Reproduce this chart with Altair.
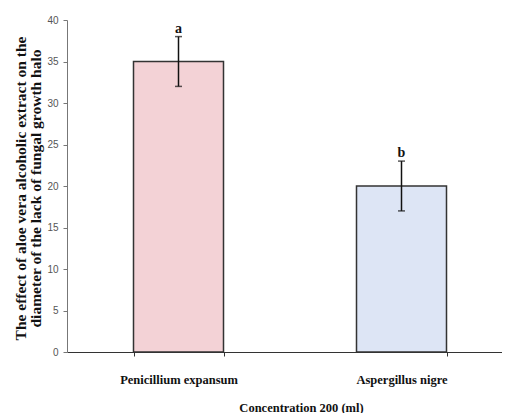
import altair as alt
import pandas as pd

categories = ["Penicillium expansum", "Aspergillus nigre"]
values = [35, 20]
errors = [3, 3]
letters = ["a", "b"]
fills = ["#f3d2d6", "#dde5f5"]

df = pd.DataFrame({
    "cat": categories,
    "val": values,
    "lo": [v - e for v, e in zip(values, errors)],
    "hi": [v + e for v, e in zip(values, errors)],
    "letter": letters,
    "fill": fills,
})

p = 1 - 90 / 223
xscale = alt.Scale(domain=categories, range=[0, 446], paddingInner=p, paddingOuter=p / 2)
x = alt.X("cat:N", scale=xscale, sort=categories,
          axis=alt.Axis(title="Concentration 200 (ml)", labelAngle=0,
                        labelFont="Liberation Serif", labelFontWeight="bold", labelFontSize=12.5,
                        labelColor="#111", labelPadding=17, tickBand="extent", tickSize=4,
                        tickColor="#333", domainColor="#333", domainWidth=1.2,
                        titleFont="Liberation Serif", titleFontWeight="bold", titleFontSize=12.5,
                        titleColor="#111", titleX=234, titleY=62, titleBaseline="bottom"))
y = alt.Y("val:Q", scale=alt.Scale(domain=[0, 40]),
          axis=alt.Axis(title=["The effect of aloe vera alcoholic extract on the",
                               "diameter of the lack of fungal growth halo"],
                        values=list(range(0, 45, 5)), grid=False,
                        labelFont="Liberation Sans", labelFontSize=10, labelColor="#555",
                        labelPadding=5, tickSize=4, tickColor="#777", domainColor="#777",
                        titleFont="Liberation Serif", titleFontWeight="bold", titleFontSize=15.5,
                        titleColor="#111", titleAngle=-90, titleX=-39, titleY=168,
                        titleBaseline="bottom", titleAlign="center", titleLineHeight=15))

bars = alt.Chart(df).mark_bar(stroke="#333", strokeWidth=1.5).encode(
    x=x, y=y, fill=alt.Fill("fill:N", scale=None))
rules = alt.Chart(df).mark_rule(color="#111", strokeWidth=1.5).encode(
    x=alt.X("cat:N", scale=xscale, sort=categories), y="lo:Q", y2="hi:Q")
caps = alt.Chart(df).transform_fold(["lo", "hi"], as_=["k", "v"]).mark_tick(
    color="#111", thickness=1.5, size=7, orient="horizontal").encode(
    x=alt.X("cat:N", scale=xscale, sort=categories), y="v:Q")
labels = alt.Chart(df).mark_text(font="Liberation Serif", fontWeight="bold", fontSize=14,
                                 color="#111", baseline="bottom", dy=-1).encode(
    x=alt.X("cat:N", scale=xscale, sort=categories), y="hi:Q", text="letter:N")

chart = alt.layer(bars, rules, caps, labels).properties(
    width=435, height=332,
    autosize=alt.AutoSizeParams(type="none"),
    padding={"left": 59, "top": 12, "right": 0, "bottom": 61},
).configure_view(stroke=None)

chart.save("out.html", embed_options={"renderer": "svg", "actions": False})
